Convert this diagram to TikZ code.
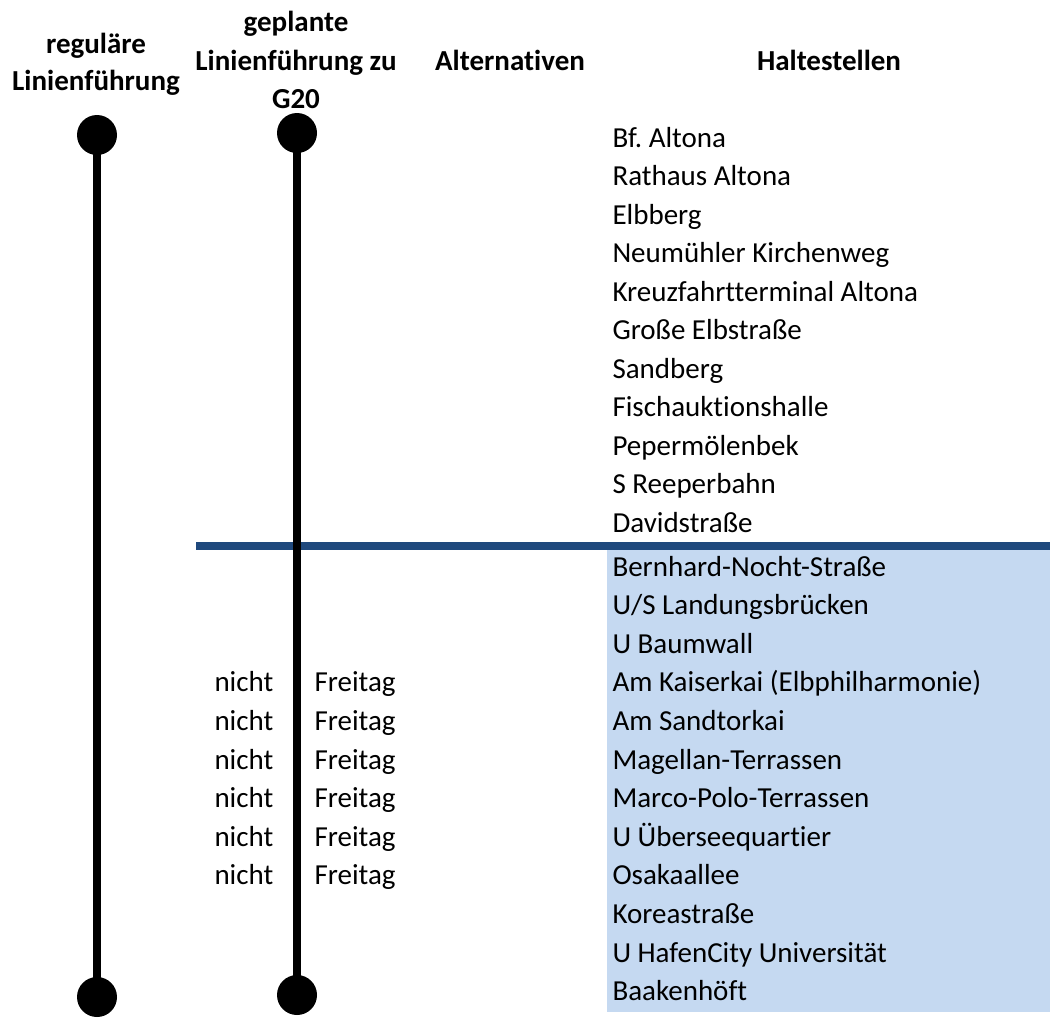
\documentclass[tikz,border=0pt]{standalone}
\usepackage{fontspec}
\setmainfont{Carlito}[Ligatures=CommonOff]
\frenchspacing
\definecolor{sepblue}{RGB}{31,73,125}
\definecolor{fillblue}{RGB}{197,217,241}
\begin{document}
\begin{tikzpicture}[x=0.4pt,y=-0.4pt,
  txt/.style={anchor=base west,inner sep=0pt,font=\fontsize{11.6}{14}\selectfont},
  hdr/.style={anchor=base,inner sep=0pt,font=\fontsize{11.6}{14}\selectfont\bfseries},
  dot/.style={circle,fill=black,inner sep=0pt,minimum size=16pt},
  route/.style={line width=3.3pt,black}]
\useasboundingbox (0,0) rectangle (1053,1021);
\fill[white] (0,0) rectangle (1053,1021);
% shaded area
\fill[fillblue] (607,550) rectangle (1050,1012);
% separator
\coordinate (sepL) at (196,546);
\coordinate (sepR) at (1050,546);
\draw[sepblue,line width=3pt] (sepL) -- (sepR);
% headers
\node[hdr] (h1a) at (96,53) {reguläre};
\node[hdr] (h1b) at (96,90) {Linienführung};
\node[hdr] (h2a) at (296,31) {geplante};
\node[hdr] (h2b) at (296,70) {Linienführung zu};
\node[hdr] (h2c) at (296,108) {G20};
\node[hdr] (h3) at (510,70) {Alternativen};
\node[hdr] (h4) at (829,70) {Haltestellen};
% routes
\node[dot] (a1) at (97,135) {};
\node[dot] (a2) at (97,997) {};
\node[dot] (b1) at (297,133) {};
\node[dot] (b2) at (297,995) {};
\draw[route] (a1.center) -- (a2.center);
\draw[route] (b1.center) -- (b2.center);
% stops
\foreach \t [count=\i] in {Bf. Altona,Rathaus Altona,Elbberg,Neumühler Kirchenweg,Kreuzfahrtterminal Altona,Große Elbstraße,Sandberg,Fischauktionshalle,Pepermölenbek,S Reeperbahn,Davidstraße}
  \node[txt] (s\i) at (612,{147+(\i-1)*38.5}) {\t};
\foreach \t [count=\i] in {Bernhard-Nocht-Straße,U/S Landungsbrücken,U Baumwall,Am Kaiserkai (Elbphilharmonie),Am Sandtorkai,Magellan-Terrassen,Marco-Polo-Terrassen,U Überseequartier,Osakaallee,Koreastraße,U HafenCity Universität,Baakenhöft}
  \node[txt] (t\i) at (612,{576+(\i-1)*38.6}) {\t};
% alternatives
\foreach \i in {4,...,9}{
  \node[txt] (n\i) at (214,{576+(\i-1)*38.6}) {nicht};
  \node[txt] (f\i) at (314,{576+(\i-1)*38.6}) {Freitag};
}
\end{tikzpicture}
\end{document}
